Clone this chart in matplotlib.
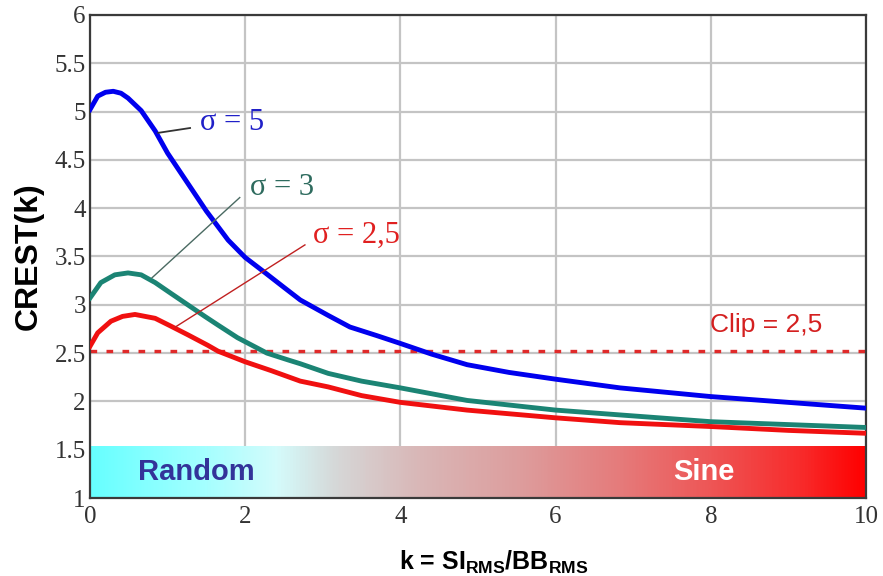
"""Crest factor vs. sine/random ratio k, for three sigma clip levels."""

import matplotlib

matplotlib.use("Agg")
import matplotlib.pyplot as plt
import numpy as np
from matplotlib.colors import LinearSegmentedColormap

# values
K_SIGMA5 = [0, 0.1, 0.2, 0.3, 0.4, 0.49, 0.66, 0.84, 1.0, 1.25, 1.5, 1.78,
            2.0, 2.26, 2.5, 2.71, 3.07, 3.35, 3.7, 4.0, 4.4, 4.86, 5.4, 6.0,
            6.83, 8.0, 9.0, 10]
CREST_SIGMA5 = [5.02, 5.16, 5.2, 5.21, 5.19, 5.14, 5.01, 4.8, 4.57, 4.27,
                3.97, 3.67, 3.49, 3.33, 3.18, 3.05, 2.89, 2.77, 2.68, 2.6,
                2.49, 2.38, 2.3, 2.23, 2.14, 2.05, 1.99, 1.93]

K_SIGMA3 = [0, 0.14, 0.32, 0.49, 0.66, 0.84, 1.04, 1.26, 1.48, 1.65, 1.9,
            2.28, 2.55, 2.71, 3.07, 3.5, 4.0, 4.86, 6.0, 6.83, 8.0, 9.0, 10]
CREST_SIGMA3 = [3.07, 3.23, 3.31, 3.33, 3.31, 3.23, 3.12, 3.0, 2.88, 2.79,
                2.66, 2.5, 2.43, 2.39, 2.29, 2.21, 2.14, 2.01, 1.91, 1.86,
                1.79, 1.76, 1.73]

K_SIGMA25 = [0, 0.1, 0.27, 0.42, 0.58, 0.84, 1.04, 1.26, 1.52, 1.65, 2.0,
             2.33, 2.71, 3.07, 3.5, 4.0, 4.86, 6.0, 6.83, 8.0, 9.0, 10]
CREST_SIGMA25 = [2.57, 2.71, 2.83, 2.88, 2.9, 2.86, 2.78, 2.69, 2.58, 2.52,
                 2.41, 2.32, 2.21, 2.15, 2.06, 1.99, 1.91, 1.83, 1.78, 1.74,
                 1.70, 1.67]

CLIP_LEVEL = 2.52
K_RANGE = [0, 10]
CREST_RANGE = [1, 6]
X_TICKS = [0, 2, 4, 6, 8, 10]
Y_TICKS = [1, 1.5, 2, 2.5, 3, 3.5, 4, 4.5, 5, 5.5, 6]
BAND_TOP = 1.53

SERIF = "Liberation Serif"
SANS = "Liberation Sans"

plt.rcParams["mathtext.fontset"] = "custom"
plt.rcParams["mathtext.bf"] = "Liberation Sans:bold"
plt.rcParams["mathtext.rm"] = "Liberation Sans:bold"

fig = plt.figure(figsize=(8.83, 5.76), dpi=100)
ax = fig.add_axes([0.1019, 0.1354, 0.8788, 0.8386])

ax.set_xlim(*K_RANGE)
ax.set_ylim(*CREST_RANGE)
ax.set_xticks(X_TICKS)
ax.set_yticks(Y_TICKS)
ax.set_xticklabels([f"{t:g}" for t in X_TICKS], family=SERIF, fontsize=18,
                   color="#333333")
ax.set_yticklabels([f"{t:g}" for t in Y_TICKS], family=SERIF, fontsize=18,
                   color="#333333")
ax.tick_params(length=0)
ax.tick_params(axis="x", pad=6)
ax.tick_params(axis="y", pad=3)
ax.grid(True, color="#c4c4c4", linewidth=1.6)
ax.set_axisbelow(True)
for side in ["left", "top", "right", "bottom"]:
    ax.spines[side].set_color("#3a3a3a")
    ax.spines[side].set_linewidth(1.6)

# random -> sine colour band along the bottom
band = LinearSegmentedColormap.from_list("band", [
    (0.0, "#66ffff"), (0.15, "#a6ffff"), (0.24, "#d4fbfb"),
    (0.32, "#d6d6d6"), (0.42, "#d9b8b8"), (0.55, "#dd9e9e"),
    (0.68, "#e57c7c"), (0.8, "#ee5656"), (0.92, "#f82a2a"),
    (1.0, "#ff0000")])
ax.imshow(np.linspace(0, 1, 512)[None, :], cmap=band, aspect="auto",
          extent=(K_RANGE[0], K_RANGE[1], CREST_RANGE[0], BAND_TOP),
          zorder=1.5)
ax.text(1.37, 1.27, "Random", family=SANS, fontweight="bold", fontsize=21,
        color="#333399", ha="center", va="center", zorder=3)
ax.text(7.91, 1.27, "Sine", family=SANS, fontweight="bold", fontsize=21,
        color="white", ha="center", va="center", zorder=3)

# clip level
ax.plot(K_RANGE, [CLIP_LEVEL, CLIP_LEVEL], color="#e02a2a", linewidth=2.4,
        linestyle=(0, (2.0, 2.8)), zorder=2)
ax.text(7.99, 2.79, "Clip = 2,5", family=SANS, fontsize=19, color="#d42020",
        ha="left", va="center")

ax.plot(K_SIGMA5, CREST_SIGMA5, color="#0000ee", linewidth=3.5, zorder=4,
        solid_joinstyle="round")
ax.plot(K_SIGMA3, CREST_SIGMA3, color="#1b8474", linewidth=3.5, zorder=4,
        solid_joinstyle="round")
ax.plot(K_SIGMA25, CREST_SIGMA25, color="#f01010", linewidth=3.5, zorder=4,
        solid_joinstyle="round")

# curve labels with leader lines
ax.plot([0.88, 1.29], [4.78, 4.83], color="#333333", linewidth=1.3, zorder=5)
ax.text(1.42, 4.89, "σ = 5", family=SERIF, fontsize=22, color="#2020c8",
        ha="left", va="center")
ax.plot([0.8, 1.93], [3.28, 4.11], color="#4a6a62", linewidth=1.0, zorder=5)
ax.text(2.06, 4.21, "σ = 3", family=SERIF, fontsize=22, color="#2e6b5e",
        ha="left", va="center")
ax.plot([1.1, 2.77], [2.77, 3.62], color="#c02020", linewidth=1.0, zorder=5)
ax.text(2.87, 3.72, "σ = 2,5", family=SERIF, fontsize=22, color="#e02020",
        ha="left", va="center")

ax.set_ylabel("CREST(k)", family=SANS, fontweight="bold", fontsize=23,
              labelpad=8)
ax.set_xlabel(r"k = SI$_\mathbf{RMS}$/BB$_\mathbf{RMS}$", family=SANS,
              fontweight="bold", fontsize=18)
ax.xaxis.set_label_coords(0.52, -0.105)

fig.savefig("out.png", dpi=100)
